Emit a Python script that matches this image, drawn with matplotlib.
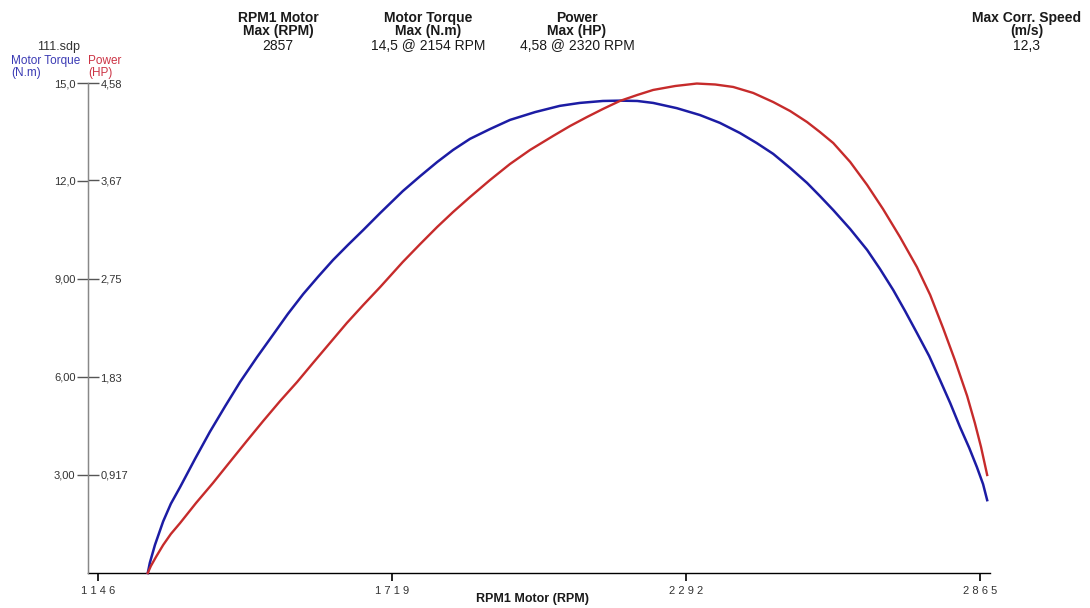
import matplotlib
matplotlib.use("Agg")
import matplotlib.pyplot as plt

plt.rcParams['font.family'] = ['Liberation Sans', 'DejaVu Sans']

# ---- data ----
torque_rpm = [1243, 1247, 1257, 1273, 1288, 1306, 1335, 1364, 1394, 1423, 1456, 1487,
              1516, 1546, 1575, 1604, 1633, 1663, 1696, 1740, 1774, 1807, 1838, 1871,
              1910, 1949, 1998, 2046, 2085, 2130, 2163, 2197, 2228, 2274, 2319, 2358,
              2397, 2430, 2462, 2495, 2528, 2553, 2579, 2612, 2645, 2670, 2696, 2719,
              2742, 2766, 2787, 2807, 2826, 2844, 2859, 2871, 2879]
torque_nm = [0.00, 0.31, 0.86, 1.58, 2.12, 2.63, 3.49, 4.32, 5.11, 5.85, 6.61, 7.29,
             7.93, 8.54, 9.07, 9.58, 10.04, 10.50, 11.02, 11.69, 12.15, 12.58, 12.95, 13.29,
             13.59, 13.87, 14.11, 14.30, 14.39, 14.45, 14.46, 14.45, 14.39, 14.23, 14.02, 13.78,
             13.47, 13.16, 12.83, 12.40, 11.94, 11.54, 11.11, 10.53, 9.89, 9.31, 8.66, 8.02,
             7.35, 6.64, 5.91, 5.20, 4.47, 3.83, 3.24, 2.72, 2.23]

power_rpm = [1243, 1249, 1259, 1273, 1288, 1306, 1337, 1370, 1403, 1436, 1468, 1501,
             1534, 1565, 1598, 1631, 1663, 1696, 1740, 1774, 1807, 1838, 1871, 1910,
             1949, 1988, 2033, 2066, 2099, 2130, 2163, 2197, 2228, 2271, 2313, 2349,
             2384, 2423, 2462, 2495, 2528, 2553, 2579, 2612, 2645, 2676, 2709, 2742,
             2768, 2793, 2816, 2840, 2855, 2867, 2879]
power_hp = [0.000, 0.065, 0.150, 0.262, 0.365, 0.467, 0.654, 0.841, 1.038, 1.234, 1.421, 1.608,
            1.785, 1.963, 2.150, 2.337, 2.505, 2.673, 2.907, 3.075, 3.234, 3.374, 3.514, 3.673,
            3.823, 3.954, 4.085, 4.178, 4.262, 4.337, 4.412, 4.468, 4.515, 4.552, 4.575, 4.566,
            4.543, 4.487, 4.402, 4.318, 4.215, 4.122, 4.019, 3.842, 3.627, 3.402, 3.141, 2.860,
            2.598, 2.290, 1.991, 1.654, 1.402, 1.178, 0.916]

x_ticks = [1146, 1719, 2292, 2865]
torque_ticks = [3.0, 6.0, 9.0, 12.0, 15.0]
torque_tick_labels = ["3,00", "6,00", "9,00", "12,0", "15,0"]
power_ticks = [0.917, 1.83, 2.75, 3.67, 4.58]
power_tick_labels = ["0,917", "1,83", "2,75", "3,67", "4,58"]

header_titles = [("RPM1 Motor", "Max (RPM)", "2857"),
                 ("Motor Torque", "Max (N.m)", "14,5 @ 2154 RPM"),
                 ("Power", "Max (HP)", "4,58 @ 2320 RPM"),
                 ("Max Corr. Speed", "(m/s)", "12,3")]

W, H = 1090, 608
fig = plt.figure(figsize=(W / 100, H / 100), dpi=100)
fig.patch.set_facecolor("white")

ax_l, ax_r, ax_t, ax_b = 88, 990, 83, 573
ax = fig.add_axes([ax_l / W, 1 - ax_b / H, (ax_r - ax_l) / W, (ax_b - ax_t) / H])
ax.set_xlim(1126.5, 2884.5)
ax.set_ylim(0, 15.0)

blue = "#1c1ca4"
red = "#c62b2b"
ax.plot(torque_rpm, torque_nm, color=blue, lw=1.8, clip_on=False, zorder=3,
        solid_joinstyle="round")

ax2 = ax.twinx()
ax2.set_ylim(0, 4.58)
ax2.plot(power_rpm, power_hp, color=red, lw=1.7, clip_on=False, zorder=2,
         solid_joinstyle="round")

for a in (ax, ax2):
    a.patch.set_visible(False)
    for s in ("top", "right"):
        a.spines[s].set_visible(False)
ax2.spines["left"].set_visible(False)
ax2.spines["bottom"].set_visible(False)
ax2.spines["right"].set_visible(True)
ax2.spines["right"].set_position(("axes", 0))
ax2.spines["right"].set_color("#888888")
ax.spines["left"].set_color("#888888")
ax.spines["left"].set_linewidth(1.0)
ax.spines["bottom"].set_color("black")
ax.spines["bottom"].set_linewidth(1.0)

tick_col = "#333333"
ax.set_yticks(torque_ticks)
ax.set_yticklabels(torque_tick_labels)
ax.tick_params(axis="y", direction="out", length=8, width=1, color="#555555",
               labelsize=8, labelcolor=tick_col, pad=1)
ax2.set_yticks(power_ticks)
ax2.set_yticklabels(power_tick_labels)
ax2.tick_params(axis="y", direction="out", length=8, width=1, color="#555555",
                labelsize=8, labelcolor=tick_col, pad=1)

ax.set_xticks(x_ticks)
ax.set_xticklabels([" ".join(str(v)) for v in x_ticks])
ax.tick_params(axis="x", direction="out", length=6, width=1.2, color="black",
               labelsize=8, labelcolor=tick_col, pad=3)

def ftext(x, y, s, **kw):
    fig.text(x / W, 1 - y / H, s, **kw)

# headers
centers = [278, 428, 577, 1027]
for cx, (l1, l2, l3) in zip(centers, header_titles):
    ftext(cx, 18, l1, ha="center", va="center", fontsize=10, fontweight="bold", color="#1a1a1a")
    ftext(cx, 31.5, l2, ha="center", va="center", fontsize=10, fontweight="bold", color="#1a1a1a")
    ftext(cx, 46, l3, ha="center", va="center", fontsize=10, color="#1a1a1a")

ftext(37, 47, "111.sdp", ha="left", va="center", fontsize=9, color="#333333")
ftext(11, 61, "Motor Torque", ha="left", va="center", fontsize=8.5, color="#3a3ab4")
ftext(11, 73, "(N.m)", ha="left", va="center", fontsize=8.5, color="#3a3ab4")
ftext(88, 61, "Power", ha="left", va="center", fontsize=8.5, color="#cc3344")
ftext(88, 73, "(HP)", ha="left", va="center", fontsize=8.5, color="#cc3344")

ftext(532, 599, "RPM1 Motor (RPM)", ha="center", va="center", fontsize=9, fontweight="bold",
      color="#1a1a1a")

fig.savefig("out.png", dpi=100, facecolor="white")
